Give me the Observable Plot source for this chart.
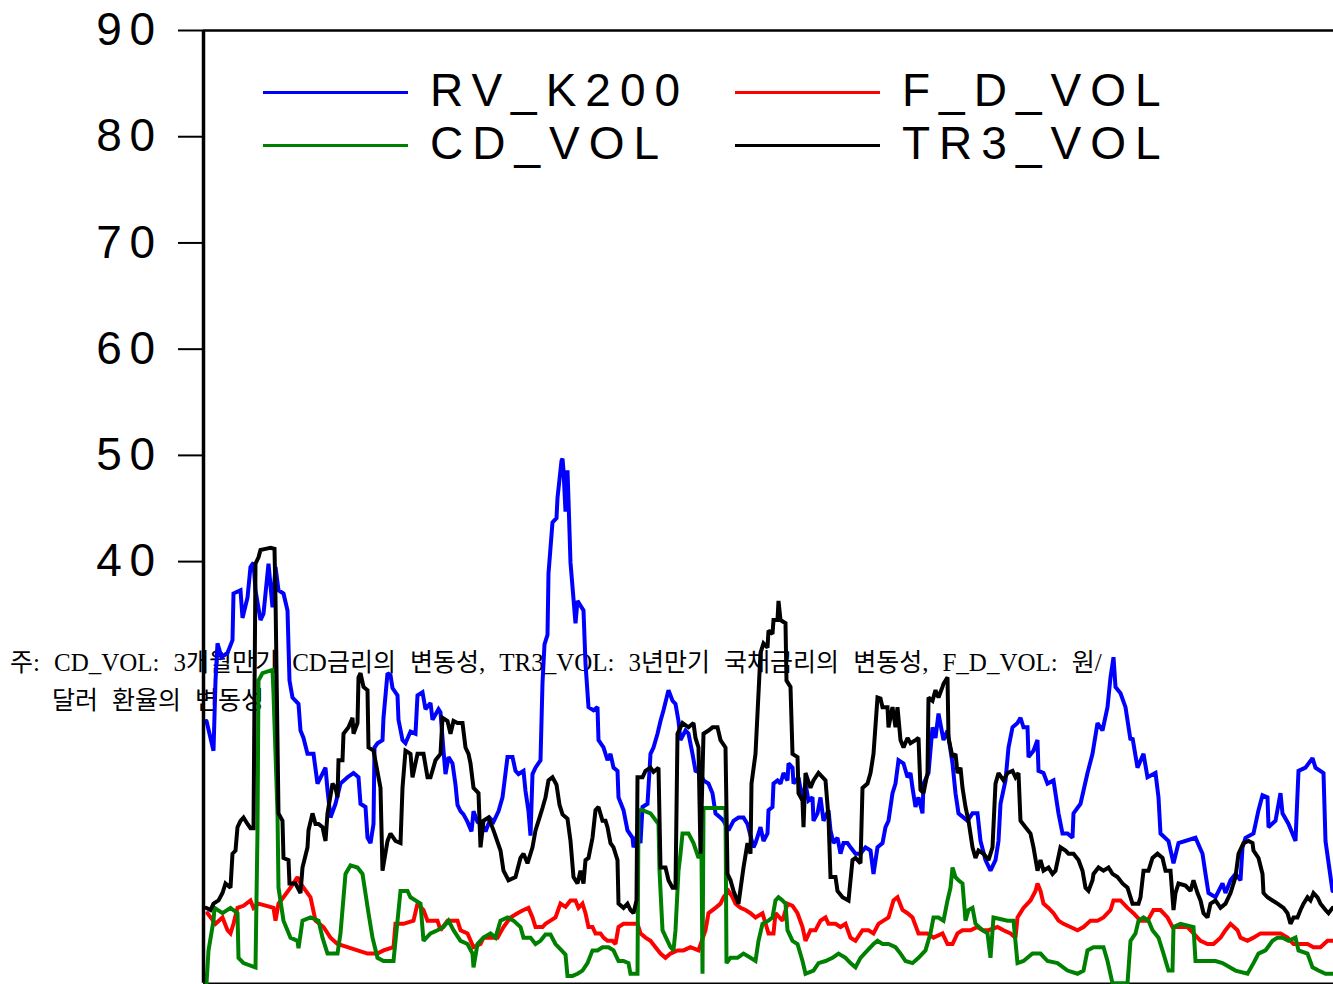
<!DOCTYPE html>
<html><head><meta charset="utf-8">
<script src="https://cdn.jsdelivr.net/npm/d3@7"></script>
<script src="https://cdn.jsdelivr.net/npm/@observablehq/plot@0.6"></script>
<style>
html,body{margin:0;padding:0;background:#fff;}
#wrap{position:relative;width:1333px;height:984px;overflow:hidden;background:#fff;}
#note div{position:absolute;white-space:pre;font-family:"Liberation Serif","Noto Sans CJK KR",serif;font-size:25px;line-height:25px;word-spacing:7.8px;color:#000;}
#chart{position:absolute;left:0;top:0;z-index:1;}
#legend{position:absolute;left:263px;top:64px;z-index:2;display:grid;grid-template-columns:472px 420px;grid-auto-rows:53px;}
#legend .item{position:relative;height:53px;}
#legend .sw{position:absolute;left:0;top:27px;width:145px;height:3px;}
#legend .lb{position:absolute;left:167px;top:0;line-height:53px;font-family:"Liberation Sans",Arial,sans-serif;font-size:46px;letter-spacing:9px;white-space:nowrap;color:#000;}
#chart g[aria-label="y-axis tick label"] text{letter-spacing:7.5px;}
</style></head><body>
<div id="wrap"><div id="note"></div><div id="chart"></div><div id="legend"></div></div>
<script>
// observation index (t) and volatility values
const RV_K200 = [[1,25.0],[8,22.2],[10,28.8],[12,32.3],[16,31.0],[22,31.4],[27,32.6],[28,37.0],[35,37.3],[37,34.7],[42,36.6],[45,39.5],[48,39.9],[50,37.3],[55,34.5],[58,35.1],[63,39.8],[67,35.7],[70,39.5],[73,37.3],[78,37.0],[82,35.4],[84,28.8],[87,27.2],[93,26.6],[95,24.1],[98,23.4],[102,21.9],[108,21.9],[112,19.1],[120,20.6],[122,18.5],[125,15.9],[130,17.2],[135,19.1],[142,19.7],[148,20.1],[153,19.7],[155,17.2],[160,16.9],[162,14.0],[165,13.5],[168,15.3],[169,22.5],[172,22.9],[177,23.2],[178,25.3],[182,29.5],[185,29.3],[187,28.1],[192,27.4],[193,25.1],[197,23.2],[200,22.9],[205,24.0],[210,23.8],[212,27.4],[217,27.7],[220,26.1],[225,26.7],[227,25.1],[233,26.1],[235,25.8],[238,22.2],[240,20.0],[243,21.6],[247,21.0],[250,19.0],[252,17.1],[255,16.5],[258,16.2],[262,15.5],[266,14.6],[268,16.5],[272,15.5],[277,15.2],[280,14.6],[285,15.8],[288,15.5],[293,16.5],[297,17.8],[302,21.6],[307,21.6],[310,20.3],[313,20.0],[318,20.3],[320,18.4],[323,16.5],[325,14.2],[327,20.0],[330,20.6],[335,21.3],[337,28.6],[339,32.2],[342,33.1],[343,38.9],[347,43.7],[351,44.1],[352,46.0],[356,49.5],[357,49.7],[358,48.6],[360,44.7],[362,48.6],[363,45.8],[365,39.9],[370,34.2],[372,36.3],[378,35.4],[380,30.4],[383,26.3],[388,26.0],[392,26.3],[393,23.2],[398,22.5],[402,21.3],[405,21.9],[408,20.6],[412,20.3],[413,17.8],[418,16.6],[422,14.7],[427,14.0],[428,13.1],[432,14.4],[435,13.5],[437,16.9],[442,17.2],[445,21.9],[448,22.5],[452,23.8],[455,25.0],[458,26.0],[463,27.9],[467,26.9],[470,26.6],[473,25.0],[475,23.2],[480,24.1],[483,23.8],[487,21.9],[490,20.3],[495,20.1],[498,19.4],[503,19.1],[507,18.2],[510,16.3],[515,15.9],[518,15.6],[523,14.7],[528,15.6],[533,15.9],[538,15.9],[542,15.3],[548,13.1],[550,13.5],[553,14.4],[555,15.0],[558,13.7],[562,14.4],[563,16.6],[567,16.9],[568,19.1],[572,19.4],[575,19.1],[578,20.1],[582,19.4],[583,21.0],[587,20.6],[588,19.1],[593,19.7],[597,17.5],[600,19.1],[603,17.5],[607,17.8],[608,15.6],[612,16.3],[615,17.8],[618,15.6],[623,16.6],[625,14.7],[628,13.5],[632,14.0],[635,12.5],[638,13.5],[642,13.5],[645,13.1],[650,12.5],[655,12.5],[660,13.1],[665,12.8],[668,10.6],[672,13.1],[677,13.5],[680,15.0],[683,15.6],[687,18.2],[690,19.1],[693,21.3],[698,21.0],[702,19.7],[705,20.1],[707,18.7],[710,16.9],[713,17.8],[717,16.3],[718,19.1],[723,20.1],[727,24.4],[730,23.4],[733,25.7],[738,23.2],[742,24.1],[747,21.0],[750,18.2],[753,16.3],[762,15.6],[767,16.3],[772,16.3],[775,13.7],[780,11.9],[785,10.9],[790,11.9],[793,13.7],[795,17.2],[800,19.4],[803,22.5],[807,24.4],[812,24.8],[815,25.3],[818,24.4],[822,24.4],[823,21.6],[828,22.2],[832,23.2],[833,20.3],[838,20.1],[842,19.1],[848,19.4],[853,16.3],[857,14.4],[862,14.4],[867,14.0],[868,16.3],[875,17.2],[882,20.1],[887,21.9],[892,24.8],[897,24.1],[902,26.3],[905,29.1],[908,31.0],[910,28.2],[915,27.6],[920,26.3],[925,23.2],[927,23.4],[932,20.6],[938,21.9],[942,19.7],[950,20.1],[953,17.8],[955,14.4],[963,13.7],[968,11.6],[973,13.5],[990,14.0],[997,12.5],[1000,10.6],[1003,8.8],[1010,8.4],[1017,9.7],[1020,8.8],[1025,10.0],[1030,10.6],[1035,10.0],[1037,13.1],[1040,14.0],[1048,14.4],[1053,16.6],[1057,18.0],[1062,17.8],[1063,15.0],[1070,15.6],[1075,18.2],[1077,16.3],[1083,15.3],[1090,13.7],[1093,20.3],[1100,20.6],[1107,21.5],[1110,20.6],[1118,20.1],[1120,13.7],[1127,9.0]];

const F_D_VOL = [[2,6.9],[10,5.9],[17,6.5],[22,5.3],[25,5.0],[28,5.9],[32,7.4],[38,7.6],[45,8.1],[48,7.4],[53,7.8],[68,7.4],[70,6.2],[73,7.8],[78,8.4],[85,9.3],[92,10.3],[95,9.7],[98,9.3],[105,8.4],[110,6.2],[118,5.6],[125,4.6],[132,4.0],[142,3.7],[152,3.4],[162,3.1],[172,3.1],[178,3.4],[188,3.7],[190,5.9],[198,5.9],[208,6.2],[212,7.8],[218,7.2],[222,6.2],[232,6.2],[235,5.3],[242,6.2],[252,6.2],[255,5.3],[262,5.0],[268,3.7],[275,4.0],[278,4.6],[292,4.6],[298,5.6],[305,6.5],[312,6.9],[318,7.2],[323,7.4],[327,6.5],[330,5.6],[337,5.6],[340,5.9],[345,6.2],[350,6.5],[355,7.8],[360,7.5],[365,8.1],[370,8.1],[373,7.4],[377,7.8],[380,6.9],[383,5.6],[387,5.6],[390,5.0],[395,5.0],[398,4.6],[402,4.3],[407,4.3],[410,4.0],[413,5.6],[418,5.9],[432,5.9],[435,5.0],[440,4.6],[445,4.3],[450,3.7],[455,3.1],[460,2.7],[465,3.1],[472,3.4],[478,3.4],[485,3.7],[493,3.4],[500,5.3],[503,6.9],[510,7.4],[515,7.8],[518,8.4],[523,9.0],[527,8.4],[530,7.8],[535,7.4],[540,7.2],[545,6.9],[550,6.5],[557,6.9],[563,5.0],[568,5.0],[570,6.9],[577,6.2],[582,7.8],[587,7.6],[592,6.9],[597,5.6],[600,4.3],[605,5.3],[610,5.3],[615,6.2],[620,6.5],[623,5.9],[630,5.9],[635,5.6],[640,5.9],[645,4.6],[650,4.3],[657,5.3],[663,5.3],[668,5.0],[673,5.9],[678,6.2],[683,6.5],[688,8.1],[692,8.4],[697,7.2],[702,6.9],[707,6.5],[713,5.0],[722,5.0],[728,4.6],[737,5.0],[742,4.0],[747,4.0],[752,5.0],[757,5.3],[765,5.3],[772,5.6],[777,5.3],[783,5.3],[792,5.6],[798,5.3],[805,5.0],[810,4.6],[812,6.5],[818,7.4],[825,8.1],[830,9.0],[832,9.7],[835,9.0],[838,7.8],[843,7.4],[848,6.9],[853,6.2],[858,5.9],[865,5.6],[872,5.3],[878,5.6],[885,6.2],[892,6.2],[898,6.5],[905,7.2],[908,8.1],[915,8.1],[922,7.4],[928,6.9],[935,6.2],[942,6.2],[948,7.2],[955,7.2],[962,6.5],[967,5.6],[973,5.6],[982,5.6],[988,5.0],[995,4.3],[1002,4.0],[1008,4.0],[1015,4.6],[1020,5.3],[1025,5.9],[1032,5.3],[1035,4.6],[1042,4.3],[1048,4.6],[1055,5.0],[1068,5.0],[1075,5.0],[1082,4.6],[1088,4.0],[1102,4.0],[1108,3.7],[1115,3.7],[1122,4.3],[1127,4.3]];

const CD_VOL = [[1,0.3],[3,3.4],[8,6.2],[9,7.4],[17,6.9],[25,7.4],[32,6.9],[33,2.7],[38,2.2],[50,1.8],[52,14.7],[53,28.8],[57,29.5],[67,29.8],[68,27.6],[72,16.3],[73,9.3],[78,6.2],[85,4.6],[92,4.3],[93,3.6],[97,6.2],[105,6.5],[113,6.2],[117,4.6],[122,3.1],[132,3.1],[135,5.0],[140,10.6],[145,11.4],[152,11.2],[157,10.6],[163,6.9],[167,4.6],[172,2.7],[178,2.4],[188,2.4],[195,9.0],[202,9.0],[205,8.4],[215,7.8],[218,4.3],[225,5.0],[232,5.3],[238,5.6],[243,6.2],[248,5.3],[255,4.3],[262,4.0],[267,3.1],[268,1.8],[272,4.0],[278,4.6],[285,5.0],[290,4.6],[295,6.2],[302,6.5],[308,6.2],[315,5.6],[318,4.6],[325,4.6],[330,4.0],[335,4.3],[340,4.9],[345,4.9],[350,4.0],[357,3.3],[360,3.0],[362,1.0],[367,1.0],[372,1.2],[377,1.5],[382,2.2],[387,3.4],[392,3.4],[397,3.7],[403,3.7],[408,3.4],[413,2.4],[418,2.4],[423,2.2],[425,1.2],[432,1.2],[433,16.6],[437,16.6],[445,16.3],[453,15.3],[454,10.9],[457,5.3],[462,4.3],[465,3.7],[468,3.4],[470,5.3],[473,10.9],[475,12.5],[477,14.4],[483,14.4],[488,13.5],[493,12.1],[496,12.5],[497,1.2],[498,16.8],[520,16.8],[521,2.2],[525,2.7],[532,2.7],[538,3.1],[545,2.7],[550,2.4],[553,4.3],[557,5.9],[563,6.2],[567,6.5],[570,8.1],[573,8.4],[577,8.1],[580,7.8],[582,5.3],[587,4.3],[592,4.0],[597,2.4],[600,1.2],[608,1.5],[613,2.2],[620,2.4],[627,2.7],[633,3.1],[640,2.7],[645,2.2],[650,1.8],[655,2.7],[662,3.4],[668,4.0],[672,4.3],[677,4.0],[683,4.0],[690,3.7],[695,3.1],[700,2.4],[707,2.2],[713,2.7],[720,3.4],[725,5.0],[728,6.5],[733,6.5],[738,6.2],[742,8.1],[745,9.3],[747,11.2],[750,10.3],[753,10.0],[757,9.7],[760,6.2],[763,7.2],[767,7.4],[770,5.9],[777,5.3],[782,5.0],[785,2.7],[788,6.5],[802,6.2],[808,6.2],[812,2.2],[818,2.4],[827,3.1],[835,3.1],[842,2.4],[852,2.2],[862,1.5],[872,1.2],[878,1.5],[882,3.4],[888,3.7],[898,3.7],[902,2.4],[907,0.3],[922,0.3],[925,4.3],[930,5.0],[933,6.2],[938,6.5],[943,6.2],[947,5.3],[953,4.6],[958,3.1],[963,1.5],[967,1.5],[968,5.6],[975,5.9],[988,5.6],[990,2.4],[1000,2.4],[1010,2.4],[1017,2.2],[1030,1.5],[1042,1.2],[1048,2.2],[1053,3.1],[1060,3.4],[1067,4.3],[1072,4.6],[1077,4.6],[1083,4.3],[1090,4.6],[1093,3.4],[1102,3.1],[1107,1.8],[1113,1.5],[1120,1.2],[1127,1.2]];

const TR3_VOL = [[1,7.4],[5,7.2],[8,7.8],[13,8.1],[17,8.8],[20,9.7],[25,9.3],[27,12.5],[30,12.8],[32,15.0],[35,15.6],[38,15.9],[42,15.3],[45,14.9],[48,14.9],[50,39.8],[53,40.4],[55,41.1],[60,41.2],[65,41.3],[69,41.2],[70,36.6],[73,16.3],[77,15.6],[78,12.1],[83,11.9],[84,9.7],[90,9.7],[95,8.8],[97,11.2],[102,13.1],[103,14.7],[107,16.3],[110,15.3],[113,15.3],[117,15.0],[120,13.7],[122,16.3],[127,19.1],[130,18.7],[132,17.8],[133,21.3],[137,21.3],[138,23.8],[143,24.4],[147,25.3],[148,23.8],[152,24.8],[153,29.1],[155,29.5],[158,28.2],[162,27.9],[163,22.5],[168,22.2],[175,18.7],[177,10.9],[182,13.7],[185,14.4],[190,13.7],[195,13.5],[197,18.7],[200,22.2],[205,21.9],[207,19.7],[212,21.9],[218,21.9],[222,19.7],[225,19.7],[230,21.3],[235,21.9],[237,25.3],[242,25.0],[245,23.8],[248,25.0],[252,24.8],[257,24.8],[260,22.5],[263,21.9],[265,21.0],[268,18.7],[273,18.2],[275,13.1],[278,15.6],[283,15.9],[288,14.7],[295,12.8],[298,10.9],[303,10.0],[310,10.3],[315,12.1],[318,12.5],[322,11.6],[327,13.1],[330,14.7],[333,15.6],[337,16.8],[340,17.8],[343,19.4],[347,19.7],[351,19.0],[354,17.1],[357,16.2],[362,15.8],[365,13.7],[368,10.3],[372,9.7],[375,10.9],[378,9.7],[380,11.9],[383,12.1],[387,14.0],[390,16.6],[393,16.9],[397,15.6],[400,15.6],[402,15.0],[405,13.5],[408,13.1],[412,11.9],[413,7.8],[418,7.4],[422,7.8],[425,7.2],[428,6.9],[431,8.1],[432,19.7],[437,19.7],[440,20.3],[445,20.6],[448,20.2],[453,20.6],[455,11.2],[460,11.2],[463,10.0],[467,9.3],[470,9.3],[472,23.8],[477,24.8],[483,24.4],[488,24.8],[490,23.4],[493,22.5],[495,12.5],[498,23.8],[503,24.1],[507,24.4],[512,24.4],[515,23.2],[520,22.5],[522,10.6],[525,10.0],[528,9.0],[533,7.8],[538,11.2],[542,13.5],[545,12.5],[546,19.1],[550,21.9],[552,25.7],[555,31.4],[558,32.3],[562,31.9],[563,33.5],[567,33.2],[568,34.5],[572,34.5],[573,36.3],[575,34.5],[580,34.2],[581,28.8],[585,28.2],[587,21.9],[592,21.6],[593,18.2],[597,17.5],[598,15.0],[600,20.1],[605,18.7],[608,19.4],[613,20.1],[620,19.4],[623,15.9],[625,10.3],[630,10.3],[632,9.0],[637,8.4],[643,8.1],[647,11.9],[650,12.1],[655,11.6],[657,18.7],[662,19.1],[665,20.1],[668,21.9],[672,27.2],[675,27.1],[677,26.3],[682,26.3],[683,24.4],[687,26.3],[690,24.4],[692,26.3],[695,23.2],[698,22.5],[702,23.4],[705,22.9],[710,23.2],[713,23.4],[715,18.5],[718,18.2],[722,20.1],[723,27.2],[727,26.9],[730,27.9],[733,27.2],[737,28.2],[738,28.5],[742,29.1],[743,23.4],[747,21.6],[750,21.9],[752,20.1],[755,20.6],[757,18.7],[760,16.9],[763,15.6],[767,13.1],[770,12.1],[773,12.8],[778,12.5],[783,11.9],[787,13.1],[790,19.1],[793,20.1],[798,19.4],[802,20.1],[807,20.3],[810,19.7],[813,20.1],[815,15.6],[820,15.0],[825,14.4],[828,13.1],[832,10.9],[835,11.9],[838,10.9],[843,11.2],[847,10.6],[850,10.9],[855,13.1],[860,12.8],[863,12.5],[868,12.5],[873,11.9],[877,10.9],[880,9.3],[883,9.0],[887,10.0],[888,10.6],[893,11.2],[898,10.9],[903,11.2],[907,10.6],[912,10.3],[917,9.7],[922,9.3],[927,7.8],[933,7.8],[935,8.4],[938,10.9],[943,10.9],[947,12.1],[952,12.5],[957,12.1],[960,10.9],[965,10.9],[968,7.2],[970,8.8],[973,9.7],[980,9.5],[985,9.0],[988,10.0],[992,8.8],[995,8.1],[998,6.9],[1002,6.5],[1005,7.8],[1010,8.1],[1015,7.4],[1020,7.8],[1025,8.8],[1030,10.3],[1033,12.5],[1038,13.5],[1043,13.7],[1047,13.5],[1048,12.8],[1053,12.1],[1057,10.6],[1058,8.8],[1062,8.4],[1067,8.1],[1072,7.8],[1078,7.4],[1082,6.9],[1085,5.9],[1088,6.5],[1092,6.5],[1095,7.2],[1098,7.8],[1102,8.4],[1105,8.1],[1108,8.8],[1112,8.4],[1115,7.8],[1120,7.2],[1123,6.9],[1127,7.4]];

const seriesNames = ["RV_K200", "F_D_VOL", "CD_VOL", "TR3_VOL"];
const seriesColors = ["#0000ff", "#ff0000", "#008000", "#000000"];
const seriesData = [RV_K200, F_D_VOL, CD_VOL, TR3_VOL];
const yTicks = [40, 50, 60, 70, 80, 90];
const tDomain = [-2, 1128];
const yDomain = [0, 90];
const yFloor = 0.3;
const noteLines = [
  "주: CD_VOL: 3개월만기 CD금리의 변동성, TR3_VOL: 3년만기 국채금리의 변동성, F_D_VOL: 원/",
  "달러 환율의 변동성"
];

// caption (drawn beneath the chart lines)
const note = document.getElementById("note");
const noteLeft = [10, 52], noteTop = [650, 688];
noteLines.forEach((s, i) => {
  const d = document.createElement("div");
  d.textContent = s;
  d.style.left = noteLeft[i] + "px";
  d.style.top = noteTop[i] + "px";
  note.appendChild(d);
});

const marks = [
  Plot.ruleY([yDomain[1]], {x1: tDomain[0], x2: tDomain[1], stroke: "#000", strokeWidth: 2.5}),
  Plot.ruleY([yFloor], {x1: tDomain[0], x2: tDomain[1], stroke: "#000", strokeWidth: 1.5})
];
seriesData.forEach((data, i) => {
  marks.push(Plot.line(data, {x: d => d[0], y: d => d[1], stroke: seriesColors[i], strokeWidth: 4, strokeLinejoin: "miter", strokeMiterlimit: 2}));
});
marks.push(Plot.ruleX([tDomain[0]], {y1: yFloor, y2: yDomain[1], stroke: "#000", strokeWidth: 3.5}));
marks.push(Plot.axisY({ticks: yTicks, tickSize: 25, tickPadding: 16, fontSize: 46, strokeWidth: 2, tickFormat: d => String(d)}));

const chart = Plot.plot({
  width: 1333, height: 984,
  marginLeft: 203, marginRight: 0, marginTop: 30, marginBottom: 1,
  x: {domain: tDomain, axis: null},
  y: {domain: yDomain, range: [986, 30]},
  style: {background: "transparent", fontFamily: "Liberation Sans, Arial, sans-serif", color: "#000"},
  marks
});
document.getElementById("chart").appendChild(chart);

// legend (two columns, row-major)
const legend = document.getElementById("legend");
seriesNames.forEach((name, i) => {
  const item = document.createElement("div");
  item.className = "item";
  const sw = document.createElement("div");
  sw.className = "sw";
  sw.style.background = seriesColors[i];
  const lb = document.createElement("div");
  lb.className = "lb";
  lb.textContent = name;
  item.appendChild(sw); item.appendChild(lb);
  legend.appendChild(item);
});
</script>
</body></html>
